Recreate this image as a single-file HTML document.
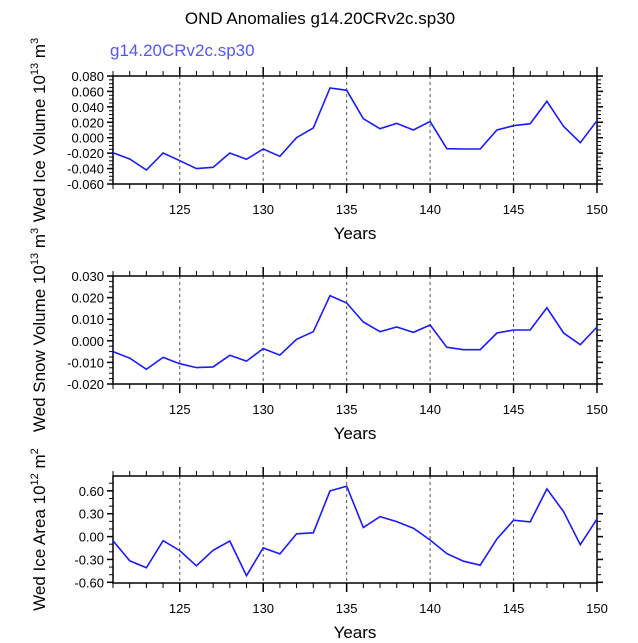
<!DOCTYPE html>
<html><head><meta charset="utf-8"><style>
body{margin:0;background:#fff;}
svg text{font-family:"Liberation Sans",sans-serif;}
</style></head><body>
<svg id="c" width="638" height="638" xmlns="http://www.w3.org/2000/svg">
<text x="320" y="24" text-anchor="middle" font-size="17">OND Anomalies g14.20CRv2c.sp30</text>
<text x="110" y="56" font-size="17" fill="#5555ff">g14.20CRv2c.sp30</text>
</svg>
<script>
const years=[121,122,123,124,125,126,127,128,129,130,131,132,133,134,135,136,137,138,139,140,141,142,143,144,145,146,147,148,149,150];
const iceVolume=[-0.0194,-0.0276,-0.0419,-0.0198,-0.0298,-0.0401,-0.0384,-0.0198,-0.028,-0.0146,-0.0241,0.0001,0.0126,0.0644,0.0614,0.0247,0.0117,0.0186,0.010,0.0212,-0.0142,-0.0146,-0.0146,0.010,0.0156,0.0182,0.0472,0.0147,-0.0064,0.0221];
const snowVolume=[-0.0050,-0.0080,-0.0132,-0.0077,-0.0106,-0.0124,-0.0121,-0.0067,-0.0094,-0.0036,-0.0066,0.0007,0.0042,0.0209,0.0175,0.0087,0.0042,0.0064,0.0039,0.0073,-0.0030,-0.0041,-0.0041,0.0036,0.0050,0.0050,0.0153,0.0036,-0.0018,0.0064];
const iceArea=[-0.054,-0.318,-0.409,-0.054,-0.184,-0.383,-0.180,-0.058,-0.513,-0.149,-0.227,0.037,0.050,0.600,0.661,0.119,0.262,0.197,0.110,-0.045,-0.223,-0.323,-0.375,-0.032,0.215,0.193,0.626,0.327,-0.106,0.232];
const xTicks=[125,130,135,140,145,150];
const ticks1=[0.08,0.06,0.04,0.02,0,-0.02,-0.04,-0.06];
const ticks2=[0.03,0.02,0.01,0,-0.01,-0.02];
const ticks3=[0.6,0.3,0,-0.3,-0.6];
const NS="http://www.w3.org/2000/svg";
const svg=document.getElementById('c');
function mk(t,a,p){const e=document.createElementNS(NS,t);for(const k in a)e.setAttribute(k,a[k]);(p||svg).appendChild(e);return e;}
const L=113,R=597,X0=121,X1=150;
function xs(v){return L+(v-X0)/(X1-X0)*(R-L);}
function panel(top,bot,ymin,ymax,ticks,minorStep,dec,vals,name,labelMain,sup1,sup2){
  const g=mk('g',{});
  
  
  const ys=v=>bot-(v-ymin)/(ymax-ymin)*(bot-top);
  for(const t of xTicks){if(t===150)continue;
    const gl=mk('line',{x1:xs(t),x2:xs(t),y1:top,y2:bot,stroke:'#555','stroke-width':1,'stroke-dasharray':'3,3'},g);
    
    }
  for(let y=X0;y<=X1;y++){const maj=(y%5===0);const len=maj?9:5;
    mk('line',{x1:xs(y),x2:xs(y),y1:top,y2:top-len,stroke:'#000','stroke-width':maj?1.5:1},g);
    mk('line',{x1:xs(y),x2:xs(y),y1:bot,y2:bot+len,stroke:'#000','stroke-width':maj?1.5:1},g);}
  for(const t of xTicks){const tl=mk('text',{x:xs(t),y:bot+30,'text-anchor':'middle','font-size':13},g);tl.textContent=t;
    
    }
  const start=Math.ceil(ymin/minorStep-1e-6);
  for(let i=start;i*minorStep<=ymax+1e-9;i++){const v=i*minorStep;
    mk('line',{x1:L,x2:L-4,y1:ys(v),y2:ys(v),stroke:'#000'},g);
    mk('line',{x1:R,x2:R+4,y1:ys(v),y2:ys(v),stroke:'#000'},g);}
  for(const t of ticks){
    mk('line',{x1:L,x2:L-6,y1:ys(t),y2:ys(t),stroke:'#000','stroke-width':1.5},g);
    mk('line',{x1:R,x2:R+6,y1:ys(t),y2:ys(t),stroke:'#000','stroke-width':1.5},g);
    const tl=mk('text',{x:L-9,y:ys(t)+5,'text-anchor':'end','font-size':13},g);tl.textContent=t.toFixed(dec);
    
    }
  const fr=mk('rect',{x:L,y:top,width:R-L,height:bot-top,fill:'none',stroke:'#000','stroke-width':1.5},g);
  
  
  const pts=vals.map((v,i)=>xs(years[i]).toFixed(1)+','+ys(v).toFixed(1)).join(' ');
  const pl=mk('polyline',{points:pts,fill:'none',stroke:'#1a1aff','stroke-width':1.6},g);
  
  
  const xt=mk('text',{x:(L+R)/2,y:bot+55,'text-anchor':'middle','font-size':17},g);xt.textContent='Years';
  
  
  const cy=(top+bot)/2;
  const yt=mk('text',{x:0,y:0,'text-anchor':'middle','font-size':17,transform:`translate(45,${cy}) rotate(-90)`},g);
  
  
  yt.innerHTML=labelMain+' 10<tspan font-size="11" dy="-7">'+sup1+'</tspan><tspan dy="7"> m</tspan><tspan font-size="11" dy="-7">'+sup2+'</tspan>';
}
panel(76,184,-0.06,0.08,ticks1,0.005,3,iceVolume,'ice-volume','Wed Ice Volume','13','3');
panel(276,384,-0.02,0.03,ticks2,0.0025,3,snowVolume,'snow-volume','Wed Snow Volume','13','3');
panel(476,583,-0.609,0.795,ticks3,0.1,2,iceArea,'ice-area','Wed Ice Area','12','2');
</script>
</body></html>
